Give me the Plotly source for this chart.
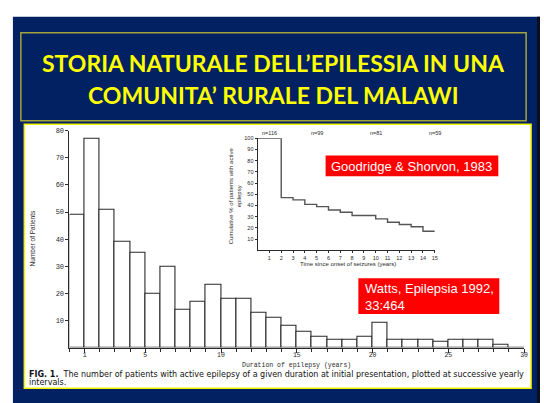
import plotly.graph_objects as go

W, H = 544, 403


def px(x):
    return x / W


def py(y):
    return 1 - y / H


# ---------------- data ----------------
duration_start = list(range(30))  # bin start (years)
patients = [49, 77, 51, 39, 35, 20, 30, 14, 17, 23, 18, 18, 13, 11, 8, 6, 4, 3, 3, 4,
            9, 3, 3, 3, 2, 3, 3, 3, 1, 0]
hist_xticks = [1, 5, 10, 15, 20, 25, 30]
hist_yticks = [10, 20, 30, 40, 50, 60, 70, 80]

inset_years = [0, 2, 3, 4, 5, 6, 7, 8, 10, 11, 12, 13, 14, 15]
inset_pct = [100, 47, 45, 41, 39, 36, 34, 31, 28, 25, 23, 21, 17, 17]
inset_xticks = list(range(1, 16))
inset_yticks = [10, 20, 30, 40, 50, 60, 70, 80, 90, 100]
inset_n_years = [1, 5, 10, 15]
inset_n_labels = ["n=116", "n=99", "n=81", "n=59"]

title_lines = ["STORIA NATURALE DELL\u2019EPILESSIA IN UNA", "COMUNITA\u2019 RURALE DEL MALAWI"]
ref1 = "Goodridge & Shorvon, 1983"
ref2 = "Watts, Epilepsia 1992,<br>33:464"
caption1 = ("<b>FIG. 1.</b>\u00a0\u00a0The number of patients with active epilepsy of a given "
            "duration at initial presentation, plotted at successive yearly")
caption2 = "intervals."

NAVY = "#022163"
INK = "#2a2a2a"

fig = go.Figure()

fig.add_trace(go.Bar(
    x=[d + 0.5 for d in duration_start], y=patients, width=1,
    marker=dict(color="white", line=dict(color=INK, width=1.1)),
    xaxis="x", yaxis="y", showlegend=False, hoverinfo="skip"))

fig.add_trace(go.Scatter(
    x=inset_years, y=inset_pct, mode="lines",
    line=dict(shape="hv", color="#555555", width=1.4),
    xaxis="x2", yaxis="y2", showlegend=False, cliponaxis=False, hoverinfo="skip"))

axcommon = dict(showgrid=False, zeroline=False, showline=True, linecolor=INK,
                linewidth=1, ticks="outside", tickcolor=INK, fixedrange=True)

shapes = [
    dict(type="rect", xref="paper", yref="paper", x0=px(13), x1=px(544), y0=py(403), y1=py(13),
         fillcolor=NAVY, line=dict(width=0), layer="below"),
    dict(type="rect", xref="paper", yref="paper", x0=px(541), x1=px(544), y0=py(403), y1=py(13),
         fillcolor="#0a0f20", line=dict(width=0), layer="below"),
    dict(type="rect", xref="paper", yref="paper", x0=px(21), x1=px(530), y0=py(118), y1=py(29),
         fillcolor="rgba(0,0,0,0)", line=dict(color="#a3a33c", width=1.5), layer="below"),
    dict(type="rect", xref="paper", yref="paper", x0=px(24.5), x1=px(535), y0=py(388), y1=py(121.5),
         fillcolor="white", line=dict(color="#f2f200", width=1.5), layer="below"),
    dict(type="rect", xref="paper", yref="paper", x0=px(328), x1=px(502), y0=py(174), y1=py(153),
         fillcolor="#ff0000", line=dict(width=0)),
    dict(type="rect", xref="paper", yref="paper", x0=px(361), x1=px(503), y0=py(313), y1=py(277),
         fillcolor="#ff0000", line=dict(width=0)),
]

ann = []
for t, yy in zip(title_lines, [60, 92]):
    ann.append(dict(text=t, x=px(275.5), y=py(yy), xref="paper", yref="paper",
                    xanchor="center", yanchor="middle", showarrow=False,
                    font=dict(family="Lato", size=23, color="#ffff00", weight="bold")))
ann.append(dict(text=ref1, x=px(415), y=py(164), xref="paper", yref="paper",
                xanchor="center", yanchor="middle", showarrow=False,
                font=dict(family="Liberation Sans", size=13, color="white")))
ann.append(dict(text=ref2, x=px(366), y=py(296), xref="paper", yref="paper",
                xanchor="left", yanchor="middle", align="left", showarrow=False,
                font=dict(family="Liberation Sans", size=13, color="white")))
ann.append(dict(text="Duration of epilepsy (years)", x=px(299), y=py(365), xref="paper", yref="paper",
                xanchor="center", yanchor="middle", showarrow=False,
                font=dict(family="Liberation Mono", size=6.5, color=INK)))
ann.append(dict(text="Number of Patients", x=px(33), y=py(237), xref="paper", yref="paper",
                xanchor="center", yanchor="middle", showarrow=False, textangle=-90,
                font=dict(family="Liberation Sans", size=6.5, color=INK)))
ann.append(dict(text=caption1, x=px(27), y=py(374), xref="paper", yref="paper",
                xanchor="left", yanchor="middle", showarrow=False,
                font=dict(family="DejaVu Sans", size=8.0, color="#111111")))
ann.append(dict(text=caption2, x=px(27), y=py(382.5), xref="paper", yref="paper",
                xanchor="left", yanchor="middle", showarrow=False,
                font=dict(family="DejaVu Sans", size=8.0, color="#111111")))
ann.append(dict(text="Cumulative % of patients with active<br>epilepsy", x=px(237), y=py(194),
                xref="paper", yref="paper", xanchor="center", yanchor="middle", showarrow=False,
                textangle=-90, font=dict(family="Liberation Sans", size=6, color=INK)))
ann.append(dict(text="Time since onset of seizures (years)", x=px(351), y=py(263),
                xref="paper", yref="paper", xanchor="center", yanchor="middle", showarrow=False,
                font=dict(family="Liberation Sans", size=6, color=INK)))
for yr, lab in zip(inset_n_years, inset_n_labels):
    ann.append(dict(text=lab, x=yr, y=py(130), xref="x2", yref="paper",
                    xanchor="center", yanchor="middle", showarrow=False,
                    font=dict(family="Liberation Sans", size=5.5, color=INK)))

fig.update_layout(
    width=W, height=H, margin=dict(l=0, r=0, t=0, b=0),
    paper_bgcolor="white", plot_bgcolor="rgba(0,0,0,0)",
    showlegend=False, bargap=0,
    shapes=shapes, annotations=ann,
    xaxis=dict(domain=[px(70), px(528)], range=[0, 30], anchor="y",
               tickmode="array", tickvals=hist_xticks, ticklen=4,
               ticklabelstandoff=-3,
               tickfont=dict(family="Liberation Mono", size=6.5, color=INK),
               minor=dict(tickmode="linear", tick0=0, dtick=1, ticks="outside",
                          ticklen=3, tickcolor=INK),
               **axcommon),
    yaxis=dict(domain=[py(347), py(128)], range=[0, 80], anchor="x",
               tickmode="array", tickvals=hist_yticks, ticklen=3,
               tickfont=dict(family="Liberation Mono", size=7, color=INK),
               **axcommon),
    xaxis2=dict(domain=[px(259.5), px(438)], range=[0, 15], anchor="y2",
                tickmode="array", tickvals=inset_xticks, ticklen=2,
                tickfont=dict(family="Liberation Sans", size=5.5, color=INK),
                **axcommon),
    yaxis2=dict(domain=[py(248.7), py(135.7)], range=[0, 100], anchor="x2",
                tickmode="array", tickvals=inset_yticks, ticklen=2,
                tickfont=dict(family="Liberation Sans", size=5.5, color=INK),
                **axcommon),
)

fig.write_html("out.html", config={"displayModeBar": False},
               post_script="document.body.style.margin='0px';document.body.style.padding='0px';")
